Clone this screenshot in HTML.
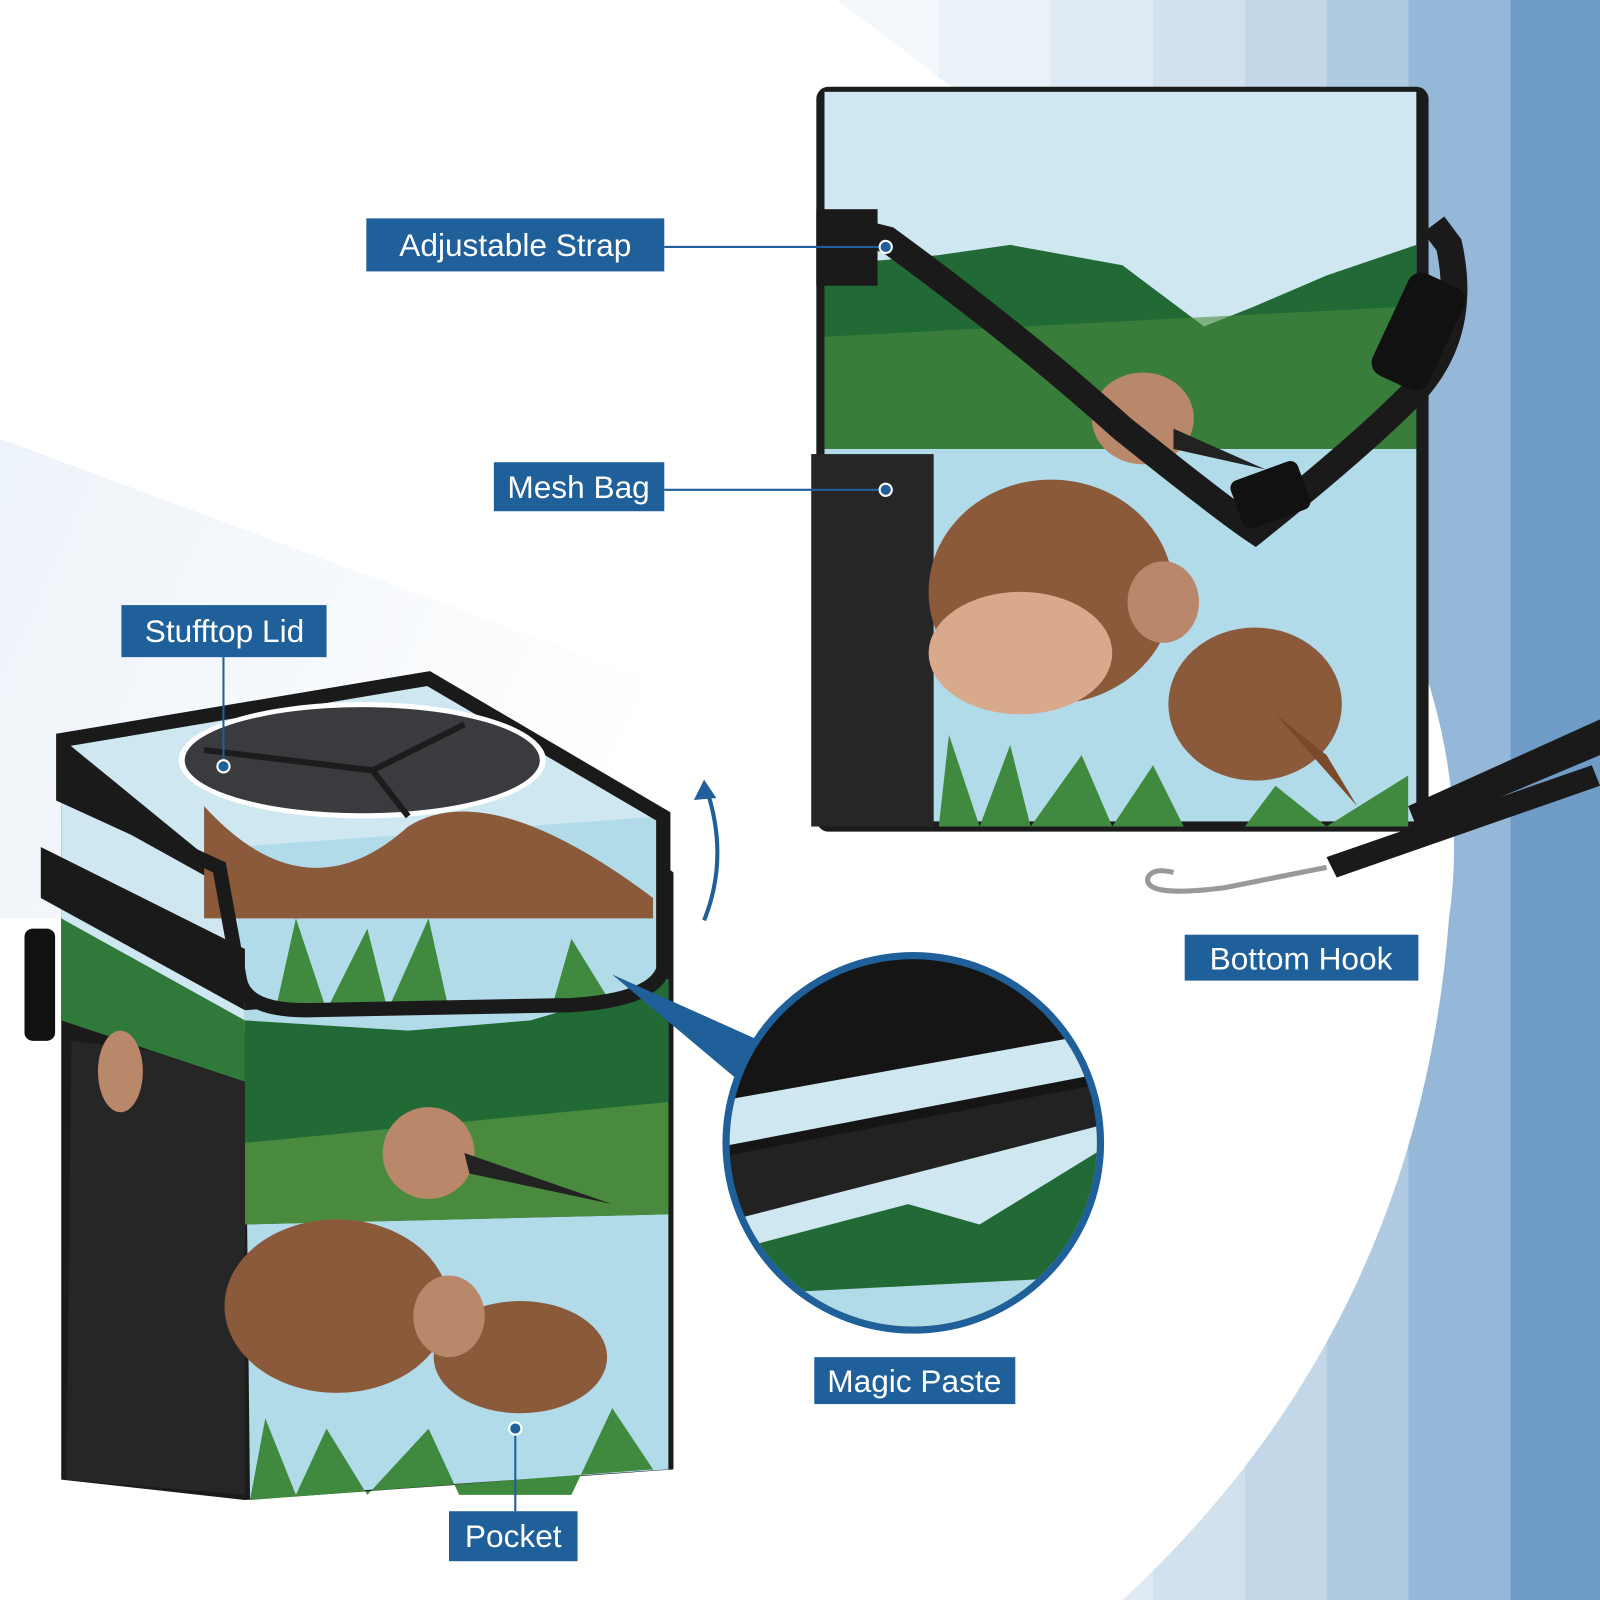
<!DOCTYPE html>
<html><head><meta charset="utf-8"><style>
html,body{margin:0;padding:0;width:1600px;height:1600px;overflow:hidden;background:#fff}
svg{display:block}
text{font-family:"Liberation Sans",sans-serif;fill:#fff}
</style></head><body>
<svg width="1600" height="1600" viewBox="0 0 1568 1568" xmlns="http://www.w3.org/2000/svg">
<defs>
<linearGradient id="wedge" x1="0" y1="0" x2="1" y2="0.3">
<stop offset="0" stop-color="#e8f0f8"/><stop offset="1" stop-color="#ffffff"/></linearGradient>
</defs>
<rect width="1568" height="1568" fill="#fff"/>
<!-- stripes -->
<rect x="820" y="0" width="100" height="1568" fill="#f3f7fb"/>
<rect x="920" y="0" width="110" height="1568" fill="#eaf1f8"/>
<rect x="1030" y="0" width="100" height="1568" fill="#e0eaf4"/>
<rect x="1130" y="0" width="90" height="1568" fill="#d2e1ee"/>
<rect x="1220" y="0" width="80" height="1568" fill="#c3d7e9"/>
<rect x="1300" y="0" width="80" height="1568" fill="#b0cae2"/>
<rect x="1380" y="0" width="100" height="1568" fill="#96b8d8"/>
<rect x="1480" y="0" width="88" height="1568" fill="#6f9cc6"/>
<path d="M0,0 L820,0 Q1480,480 1420,900 Q1390,1300 1100,1568 L0,1568 Z" fill="#fff"/>
<path d="M0,430 L700,690 L700,900 L0,900 Z" fill="url(#wedge)" opacity="0.8"/>

<!-- RIGHT BAG -->
<rect x="800" y="85" width="600" height="730" rx="12" fill="#1b1b1b"/>
<rect x="808" y="90" width="580" height="240" fill="#cfe7f1"/>
<path d="M808,260 L920,250 L990,240 L1100,260 L1180,320 L1230,300 L1300,270 L1388,240 L1388,440 L808,440 Z" fill="#226a35"/>
<path d="M808,330 L1388,300 L1388,440 L808,440 Z" fill="#4a8a3e" opacity="0.6"/>
<rect x="808" y="440" width="580" height="365" fill="#b2dbe9"/>
<rect x="795" y="445" width="120" height="365" fill="#262626"/>
<rect x="800" y="205" width="60" height="75" fill="#1a1a1a"/>
<!-- birds right -->
<ellipse cx="1030" cy="580" rx="120" ry="110" fill="#8a5a3a"/>
<ellipse cx="1000" cy="640" rx="90" ry="60" fill="#d8a98a"/>
<ellipse cx="1120" cy="410" rx="50" ry="45" fill="#b9876a"/>
<path d="M1150,420 L1240,460 L1150,440Z" fill="#222"/>
<ellipse cx="1230" cy="690" rx="85" ry="75" fill="#8a5a3a"/>
<ellipse cx="1140" cy="590" rx="35" ry="40" fill="#b9876a"/>
<path d="M1330,790 L1250,700 L1300,740Z" fill="#7a4a2a"/>
<path d="M920,810 L930,720 L960,810 L990,730 L1010,810 L1060,740 L1090,810 L1130,750 L1160,810 L1380,810 L1380,760 L1300,810 L1250,770 L1220,810 Z" fill="#3f8a3f"/>
<!-- strap -->
<path d="M810,220 L870,235 Q1000,330 1100,420 Q1200,500 1230,520 Q1330,440 1380,390 Q1440,330 1420,240 L1405,220" fill="none" stroke="#1a1a1a" stroke-width="26"/>
<rect x="1360" y="270" width="60" height="110" rx="14" fill="#111" transform="rotate(25 1390 325)"/>
<rect x="1210" y="460" width="70" height="50" rx="8" fill="#111" transform="rotate(-20 1245 485)"/>
<path d="M1380,790 L1568,705 L1568,740 L1390,815 Z" fill="#1a1a1a"/>
<path d="M1300,840 L1560,750 L1568,770 L1310,860 Z" fill="#1a1a1a"/>
<path d="M1300,850 L1200,870 Q1120,880 1125,860 Q1130,850 1150,855" fill="none" stroke="#999" stroke-width="5"/>

<!-- LEFT BAG -->
<path d="M60,720 L420,665 L660,855 L660,1440 L240,1470 L60,1450 Z" fill="#1b1b1b"/>
<path d="M240,990 L655,960 L655,1440 L245,1468 Z" fill="#b2dbe9"/>
<path d="M240,1000 L400,1010 L520,1000 L655,960 L655,1190 L240,1200 Z" fill="#226a35"/>
<path d="M240,1120 L655,1080 L655,1190 L240,1200 Z" fill="#4a8a3e"/>
<path d="M70,1020 L240,1040 L240,1465 L65,1450 Z" fill="#262626"/>
<path d="M60,780 L240,880 L240,1010 L60,900 Z" fill="#cfe7f1"/>
<path d="M60,900 L240,1000 L240,1060 L60,1000 Z" fill="#2f7a3a"/>
<!-- lid -->
<path d="M62,725 L420,665 L650,800 L650,950 Q640,980 560,985 L300,990 Q240,990 235,960 L215,850 Z" fill="#cfe7f1"/>
<path d="M230,830 L650,800 L650,950 Q640,980 560,985 L300,990 Q240,990 235,960 Z" fill="#b2dbe9"/>
<path d="M200,790 Q300,900 400,810 Q480,760 640,880 L640,900 L200,900 Z" fill="#8a5a3a"/>
<path d="M270,990 L290,900 L320,990 L360,910 L380,990 L420,900 L440,990 L540,990 L560,920 L600,985 Z" fill="#3f8a3f"/>
<path d="M62,725 L420,665 L650,800 L650,950 Q640,980 560,985 L300,990 Q240,990 235,960 L215,850 L62,780 Z" fill="none" stroke="#1a1a1a" stroke-width="14"/>
<path d="M40,830 L240,930 L240,990 L40,880Z" fill="#1a1a1a"/>
<rect x="24" y="910" width="30" height="110" rx="8" fill="#111"/>
<ellipse cx="355" cy="745" rx="180" ry="57" fill="#fff"/>
<ellipse cx="355" cy="745" rx="174" ry="52" fill="#3a3b3e"/>
<path d="M200,735 L365,755 L455,710 M365,755 L400,800" stroke="#1c1c1c" stroke-width="6" fill="none"/>
<!-- birds left -->
<ellipse cx="330" cy="1280" rx="110" ry="85" fill="#8a5a3a"/>
<ellipse cx="420" cy="1130" rx="45" ry="45" fill="#b9876a"/>
<path d="M455,1130 L600,1180 L460,1150Z" fill="#222"/>
<ellipse cx="510" cy="1330" rx="85" ry="55" fill="#8a5a3a"/>
<ellipse cx="440" cy="1290" rx="35" ry="40" fill="#b9876a"/>
<ellipse cx="118" cy="1050" rx="22" ry="40" fill="#b9876a"/>
<path d="M245,1470 L260,1390 L290,1465 L320,1400 L360,1465 L420,1400 L450,1465 L560,1465 L600,1380 L640,1440 Z" fill="#3f8a3f"/>

<!-- callout wedge + magnifier -->
<path d="M600,955 L745,1020 L725,1060 Z" fill="#1f5f9a"/>
<circle cx="895" cy="1120" r="187" fill="#1f5f9a"/>
<clipPath id="mc"><circle cx="895" cy="1120" r="180"/></clipPath>
<g clip-path="url(#mc)">
<rect x="700" y="930" width="400" height="400" fill="#151515"/>
<path d="M700,1080 L1090,1010 L1090,1050 L700,1125 Z" fill="#cfe7f1"/>
<path d="M700,1135 L1090,1060 L1090,1100 L700,1210 Z" fill="#222"/>
<path d="M700,1200 L1090,1100 L1090,1320 L700,1320 Z" fill="#cfe7f1"/>
<path d="M700,1230 L890,1180 L960,1200 L1090,1120 L1090,1320 L700,1320 Z" fill="#226a35"/>
<path d="M860,1300 L900,1260 L960,1280 L980,1320 L860,1320Z" fill="#8a5a3a"/>
<path d="M700,1270 L1090,1250 L1090,1320 L700,1320Z" fill="#b2dbe9"/>
</g>
<!-- curved arrow -->
<path d="M690,902 Q715,840 692,772" fill="none" stroke="#1f5f9a" stroke-width="4"/>
<path d="M680,784 L690,764 L702,782Z" fill="#1f5f9a"/>

<!-- label lines -->
<g stroke="#1f5f9a" stroke-width="2" fill="none">
<line x1="651" y1="242" x2="868" y2="242"/>
<line x1="651" y1="480" x2="868" y2="480"/>
<line x1="219" y1="644" x2="219" y2="750"/>
<line x1="505" y1="1481" x2="505" y2="1400"/>
</g>
<g fill="#1f5f9a" stroke="#fff" stroke-width="2">
<circle cx="868" cy="242" r="6"/><circle cx="868" cy="480" r="6"/>
<circle cx="219" cy="751" r="6"/><circle cx="505" cy="1400" r="6"/>
</g>
<!-- labels -->
<g fill="#1f5f9a">
<rect x="359" y="214" width="292" height="52"/>
<rect x="484" y="453" width="167" height="48"/>
<rect x="119" y="593" width="201" height="51"/>
<rect x="1161" y="916" width="229" height="45"/>
<rect x="798" y="1330" width="197" height="46"/>
<rect x="440" y="1481" width="126" height="49"/>
</g>
<g font-size="31" text-anchor="middle">
<text x="505" y="251">Adjustable Strap</text>
<text x="567" y="488">Mesh Bag</text>
<text x="220" y="629">Stufftop Lid</text>
<text x="1275" y="950">Bottom Hook</text>
<text x="896" y="1364">Magic Paste</text>
<text x="503" y="1516">Pocket</text>
</g>
</svg>
</body></html>
